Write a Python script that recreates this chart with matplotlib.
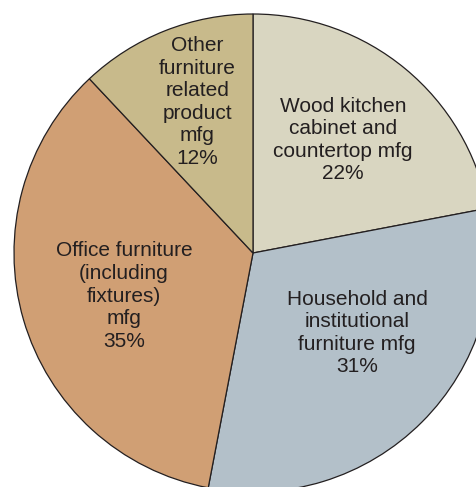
import matplotlib
matplotlib.use("Agg")
import matplotlib.pyplot as plt

categories = ["Wood kitchen\ncabinet and\ncountertop mfg",
              "Household and\ninstitutional\nfurniture mfg",
              "Office furniture\n(including\nfixtures)\nmfg",
              "Other\nfurniture\nrelated\nproduct\nmfg"]
values = [22, 31, 35, 12]
colors = ["#d9d6c1", "#b3c0c9", "#d09f74", "#c8ba8b"]
label_pos = [(0.377, 0.473), (0.435, -0.335), (-0.540, -0.180), (-0.234, 0.632)]

plt.rcParams['font.family'] = ['Liberation Sans', 'DejaVu Sans']

W, H = 477, 487
fig = plt.figure(figsize=(W / 100, H / 100), dpi=100)
ax = fig.add_axes([0, 0, 1, 1])

cx, cy, r = 253, 253, 239  # pixel centre (from top) and radius
ax.pie(values, colors=colors, startangle=90, counterclock=False,
       wedgeprops=dict(edgecolor="#231f20", linewidth=0.9))
ax.set_aspect('auto')
ax.set_xlim(-cx / r, (W - cx) / r)
ax.set_ylim(-(H - cy) / r, cy / r)
ax.axis('off')

for cat, v, (x, y) in zip(categories, values, label_pos):
    ax.text(x, y, f"{cat}\n{v}%", ha='center', va='center', fontsize=15,
            color="#231f20", linespacing=1.24)

fig.savefig("out.png", dpi=100)
